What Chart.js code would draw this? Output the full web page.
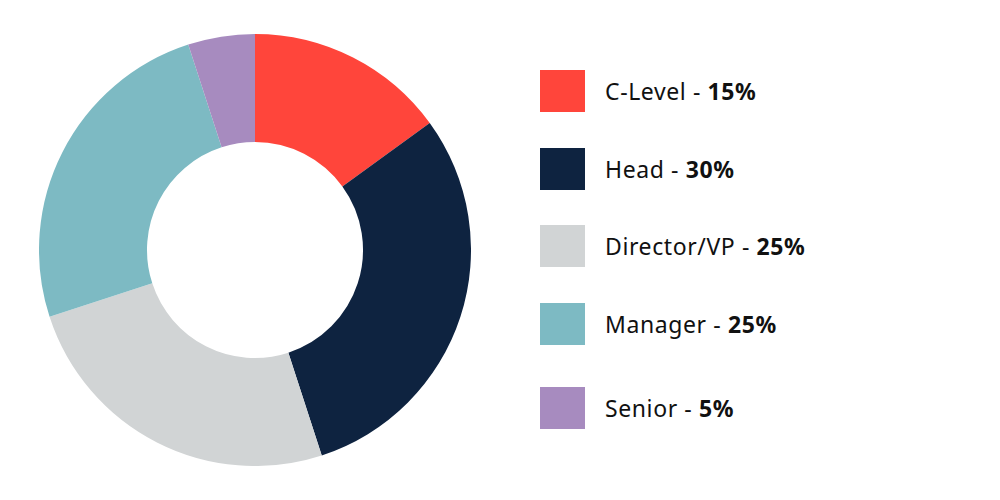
<!DOCTYPE html>
<html>
<head>
<meta charset="utf-8">
<script src="https://cdn.jsdelivr.net/npm/chart.js@4.4.0/dist/chart.umd.min.js"></script>
<style>
  html, body { margin: 0; padding: 0; background: #fff; }
  #wrap { position: relative; width: 1000px; height: 500px; overflow: hidden; }
  #donut-box { position: absolute; left: 39px; top: 34px; width: 432px; height: 432px; }
  #legend { position: absolute; left: 540px; top: 0; margin: 0; padding: 0; list-style: none; }
  #legend li { position: absolute; left: 0; height: 42px; white-space: nowrap; }
  #legend .sw { position: absolute; left: 0; top: 0; width: 45px; height: 42px; }
  #legend .txt {
    position: absolute; left: 65px; top: 0; line-height: 42px;
    font-family: "Noto Sans", sans-serif; font-size: 23px; letter-spacing: 0.6px; color: #111;
  }
  #legend .txt b { font-weight: 700; }
</style>
</head>
<body>
<div id="wrap">
  <div id="donut-box"><canvas id="donut"></canvas></div>
  <ul id="legend"></ul>
</div>
<script>
const labels = ['C-Level', 'Head', 'Director/VP', 'Manager', 'Senior'];
const shares = [15, 30, 25, 25, 5];
const colors = ['#FF453B', '#0E2340', '#D1D4D5', '#7DBAC3', '#A78BBF'];
const legendTops = [70, 148, 225, 303, 387];

const ctx = document.getElementById('donut').getContext('2d');

const donutChart = new Chart(ctx, {
  type: 'doughnut',
  data: {
    labels: labels,
    datasets: [{
      data: shares,
      backgroundColor: colors,
      borderWidth: 0,
      hoverOffset: 0
    }]
  },
  options: {
    responsive: true,
    maintainAspectRatio: false,
    animation: false,
    cutout: '50%',
    rotation: 0,
    layout: { padding: 0 },
    plugins: {
      legend: { display: false },
      tooltip: { enabled: false }
    }
  }
});

// legend built from the same arrays, so the bold value part can be styled
const $legend = document.getElementById('legend');
labels.forEach((label, i) => {
  const li = document.createElement('li');
  li.style.top = legendTops[i] + 'px';
  li.innerHTML = `<span class="sw" style="background:${colors[i]}"></span>` +
    `<span class="txt">${label} - <b>${shares[i]}%</b></span>`;
  $legend.appendChild(li);
});
</script>
</body>
</html>
